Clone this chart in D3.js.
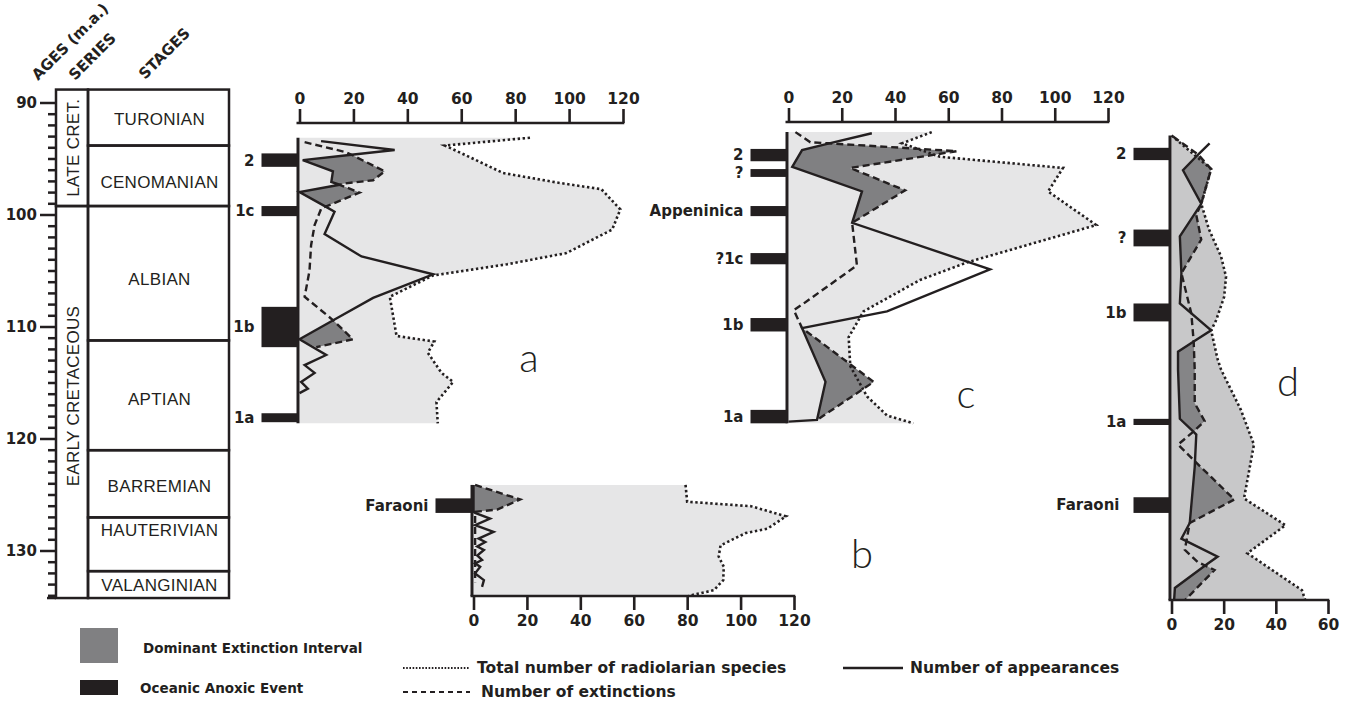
<!DOCTYPE html>
<meta charset="utf-8">
<script src="https://cdn.jsdelivr.net/npm/d3@7"></script>
<style>
  body { margin: 0; background: #fff; }
  text { fill: #231f20; }
</style>
<svg id="chart" width="1353" height="704"></svg>
<script>
// ---------- data (ages in m.a., values = number of species) ----------
var stages = ["TURONIAN", "CENOMANIAN", "ALBIAN", "APTIAN", "BARREMIAN", "HAUTERIVIAN", "VALANGINIAN"];
var stageTops = [88.8, 93.8, 99.2, 111.2, 121.0, 127.0, 131.8];
var stageBases = [93.8, 99.2, 111.2, 121.0, 127.0, 131.8, 134.2];
var stageLabelAges = [91.4, 97.0, 105.7, 116.4, 124.2, 128.1, 133.0];
var seriesNames = ["LATE CRET.", "EARLY CRETACEOUS"];
var seriesTops = [88.8, 99.2];
var seriesBases = [99.2, 134.2];
var ageTicks = [90, 100, 110, 120, 130];
var valueTicks = [0, 20, 40, 60, 80, 100, 120];
var valueTicksD = [0, 20, 40, 60];

// panel a
var aTotalAge = [93.1, 93.8, 94.7, 96.25, 97.1, 97.7, 99.5, 101.3, 103.4, 104.4, 105.4, 107.3, 110.8, 111.3, 112.3, 114.1, 114.9, 116.7, 118.6];
var aTotal    = [85.5, 53.9, 62, 75.5, 95.5, 112, 119, 116, 99, 77, 49.5, 33.5, 36, 50, 47.6, 52.7, 57, 50.8, 51.3];
var aAppAge = [93.4, 94.2, 94.62, 95.1, 96.1, 97.05, 97.3, 97.95, 99.25, 99.7, 101.7, 103.7, 105.3, 107.4, 109.4, 111.1, 112.5, 113.4, 114.1, 114.9, 115.5, 115.9];
var aApp    = [8, 35.3, 19.3, 1.2, 12.4, 11.8, 14.9, 0, 9.7, 13, 9.3, 23, 49.6, 27.3, 12.5, 0, 9.9, 1.9, 5.6, 0.6, 3.1, 0];
var aExtAge = [93.5, 94.4, 94.62, 96.1, 96.9, 97.2, 97.3, 98.0, 99.25, 99.4, 100.9, 102.7, 105.0, 107.3, 109.4, 111.1, 111.8];
var aExt    = [1.9, 17.4, 19.3, 31.6, 27.3, 16.1, 14.9, 22.3, 9.7, 8.1, 5.6, 4.3, 3.7, 1.9, 12.5, 19.8, 6.2];
var aShade = [[94.62, 97.3], [97.3, 99.25], [109.4, 111.8]];
var aOae = ["2", "1c", "1b", "1a"];
var aOaeTop = [94.5, 99.2, 108.2, 117.7];
var aOaeBase = [95.7, 100.1, 111.8, 118.5];

// panel b
var bTotalAge = [124.1, 125.6, 126.0, 126.9, 128.0, 128.4, 129.5, 130.5, 131.4, 132.6, 133.5, 134.0];
var bTotal    = [79.4, 80, 103.9, 117, 110.1, 101.9, 92.5, 91.8, 93.7, 93.5, 90, 80.6];
var bAppAge = [124.1, 126.5, 126.6, 127.1, 127.7, 128.3, 128.9, 129.2, 129.6, 129.9, 130.4, 130.8, 131.1, 131.4, 132.0, 132.6, 133.2];
var bApp    = [0, 0, 0.6, 6.2, 0.6, 7.5, 1.9, 4.4, 1.4, 3.9, 1.4, 3.2, 0.6, 2.5, 0.6, 3.9, 3.2];
var bExtAge = [124.1, 125.4, 126.3, 126.5, 132.8];
var bExt    = [0.6, 17.5, 8.9, 0.6, 0.6];
var bShade = [[124.1, 126.5]];
var bOae = ["Faraoni"];
var bOaeTop = [125.3];
var bOaeBase = [126.6];

// panel c
var cTotalAge = [92.6, 93.6, 94.8, 95.8, 97.9, 100.9, 104.2, 105.8, 108.6, 110.9, 113.5, 116.2, 117.9, 118.6];
var cTotal    = [53.8, 42.6, 56.9, 103.1, 97.5, 115.6, 67.5, 49.4, 28.2, 22.6, 23.2, 29.5, 37, 46.9];
var cAppAge = [92.7, 93.6, 94.2, 95.7, 97.9, 100.7, 104.85, 108.6, 110.1, 114.9, 118.3, 118.45];
var cApp    = [31.3, 15.3, 5.1, 1.4, 27.6, 23.9, 75.7, 37, 5.1, 13.9, 10.7, 0];
var cExtAge = [92.6, 93.5, 93.6, 94.3, 95.8, 97.8, 100.7, 104.5, 107.9, 108.5, 110.1, 114.9, 118.3];
var cExt    = [2.6, 8.2, 15.3, 63.2, 23.2, 43.8, 23.9, 25.7, 5.7, 2, 5.1, 32, 10.7];
var cShade = [[93.6, 100.7], [110.1, 118.3]];
var cOae = ["2", "?", "Appeninica", "?1c", "1b", "1a"];
var cOaeTop = [94.1, 95.9, 99.2, 103.4, 109.2, 117.4];
var cOaeBase = [95.2, 96.6, 100.1, 104.4, 110.4, 118.6];

// panel d
var dTotalAge = [92.9, 95.9, 99.0, 101.3, 103.7, 105.5, 107.3, 109.4, 110.3, 112.9, 113.8, 117.4, 120.5, 125.3, 127.7, 130.2, 133.5, 134.4];
var dTotal    = [0, 15.2, 11.4, 14.4, 19, 20.9, 20.2, 17.1, 15.2, 17.7, 19, 26.6, 31.6, 27.8, 43.7, 29.1, 50, 51.3];
var dAppAge = [93.6, 94.6, 96.0, 99.0, 101.9, 105.2, 107.9, 110.3, 111.3, 112.2, 113.8, 118.2, 119.35, 119.6, 122.0, 122.5, 127.5, 128.9, 130.5, 131.3, 133.3, 134.4];
var dApp    = [14.6, 10.2, 4.4, 11.4, 3.2, 3.8, 3.2, 15.2, 8.5, 2.5, 2.5, 3.2, 8.4, 9.5, 9.0, 8.9, 7, 3.8, 17.7, 12.9, 1.3, 1];
var dExtAge = [93.0, 94.6, 95.9, 99.0, 100.0, 102.2, 105.2, 108.8, 111.3, 113.8, 116.8, 118.4, 119.35, 120.5, 122.0, 125.4, 127.5, 129.9, 131.0, 131.3, 131.7, 134.4];
var dExt    = [0.6, 10.2, 15.2, 11.4, 9.5, 11.4, 3.8, 7.6, 8.5, 8.9, 8.9, 12.7, 8.4, 2.5, 9.0, 24.1, 7, 5.1, 10.1, 12.9, 16.5, 5.1];
var dShade = [[94.6, 99.0], [99.0, 105.2], [111.3, 119.35], [122.0, 127.5], [131.3, 134.4]];
var dOae = ["2", "?", "1b", "1a", "Faraoni"];
var dOaeTop = [94.0, 101.3, 107.9, 118.2, 125.2];
var dOaeBase = [95.1, 102.8, 109.5, 118.75, 126.6];

// ---------- drawing ----------
var ink = "#231f20";
var bold = "'DejaVu Sans', 'Liberation Sans', sans-serif";
var plain = "'Liberation Sans', Arial, sans-serif";

var svg = d3.select("#chart");
svg.append("rect").attr("width", 1353).attr("height", 704).attr("fill", "#fff");

// shared age scale
var y = d3.scaleLinear().domain([90, 130]).range([103, 551]);

// ---- stratigraphic column ----
var col = svg.append("g");
var colL = 56, colM = 88, colR = 229;

col.selectAll("rect.stage")
  .data(stages)
  .enter().append("rect")
    .attr("x", colM).attr("width", colR - colM)
    .attr("y", function(d, i){ return y(stageTops[i]) })
    .attr("height", function(d, i){ return y(stageBases[i]) - y(stageTops[i]) })
    .attr("fill", "none").attr("stroke", ink).attr("stroke-width", 2.5);

col.selectAll("text.stage")
  .data(stages)
  .enter().append("text")
    .attr("x", (colM + colR) / 2 + 1)
    .attr("y", function(d, i){ return y(stageLabelAges[i]) })
    .attr("dy", "0.36em")
    .attr("text-anchor", "middle")
    .style("font-family", plain).style("font-size", "17px").style("letter-spacing", "0.3px")
    .text(function(d){ return d });

col.selectAll("rect.series")
  .data(seriesNames)
  .enter().append("rect")
    .attr("x", colL).attr("width", colM - colL)
    .attr("y", function(d, i){ return y(seriesTops[i]) })
    .attr("height", function(d, i){ return y(seriesBases[i]) - y(seriesTops[i]) })
    .attr("fill", "none").attr("stroke", ink).attr("stroke-width", 2.5);

col.selectAll("text.series")
  .data(seriesNames)
  .enter().append("text")
    .attr("transform", function(d, i){
      var cy = (y(seriesTops[i]) + y(seriesBases[i])) / 2 - (i == 1 ? 6 : 0);
      return "translate(" + ((colL + colM) / 2 + 1) + "," + cy + ") rotate(-90)";
    })
    .attr("dy", "0.36em")
    .attr("text-anchor", "middle")
    .style("font-family", plain).style("font-size", "17px").style("letter-spacing", "0.3px")
    .text(function(d){ return d });

// age ticks every 1 m.a.
var minor = d3.range(90, 134.5, 1);
col.selectAll("line.minor")
  .data(minor)
  .enter().append("line")
    .attr("x1", function(d){ return ageTicks.indexOf(d) >= 0 ? 40 : 48 })
    .attr("x2", colL)
    .attr("y1", function(d){ return y(d) }).attr("y2", function(d){ return y(d) })
    .attr("stroke", ink).attr("stroke-width", 2.5);
col.append("line")
  .attr("x1", 47).attr("x2", colL)
  .attr("y1", y(134.2)).attr("y2", y(134.2))
  .attr("stroke", ink).attr("stroke-width", 2.5);

col.selectAll("text.age")
  .data(ageTicks)
  .enter().append("text")
    .attr("x", 37).attr("y", function(d){ return y(d) })
    .attr("dy", "0.36em").attr("text-anchor", "end")
    .style("font-family", bold).style("font-weight", "bold").style("font-size", "15px")
    .text(function(d){ return d });

// rotated headers (anchored at their lower-left start)
var headers = [["AGES (m.a.)", 38, 81], ["SERIES", 75, 81], ["STAGES", 145, 80]];
col.selectAll("text.head")
  .data(headers)
  .enter().append("text")
    .attr("transform", function(d){ return "translate(" + d[1] + "," + d[2] + ") rotate(-45)" })
    .attr("text-anchor", "start")
    .style("font-family", bold).style("font-weight", "bold").style("font-size", "15px")
    .text(function(d){ return d[0] });

// ---- panels ----
function drawPanel(p) {
  var x = d3.scaleLinear().domain([0, p.max]).range(p.range);
  var g = svg.append("g");
  var line = d3.line().x(function(d){ return x(d[0]) }).y(function(d){ return y(d[1]) });
  var top = p.totalAge[0], bot = p.totalAge[p.totalAge.length - 1];

  // area under the total curve
  var area = [[0, top]].concat(d3.zip(p.total, p.totalAge)).concat([[0, bot]]);
  g.append("path").attr("d", line(area) + "Z").attr("fill", p.fill);

  // dominant extinction intervals
  p.shade.forEach(function(r){
    var inR = function(d){ return d[1] >= r[0] - 1e-6 && d[1] <= r[1] + 1e-6 };
    var a = d3.zip(p.app, p.appAge).filter(inR);
    var e = d3.zip(p.ext, p.extAge).filter(inR).reverse();
    g.append("path").attr("d", line(a.concat(e)) + "Z").attr("fill", p.dark);
  });

  // curves
  g.append("path").attr("d", line(d3.zip(p.total, p.totalAge)))
    .attr("fill", "none").attr("stroke", ink).attr("stroke-width", 2.6)
    .attr("stroke-dasharray", "2.4,2.6");
  g.append("path").attr("d", line(d3.zip(p.ext, p.extAge)))
    .attr("fill", "none").attr("stroke", ink).attr("stroke-width", 2.4)
    .attr("stroke-dasharray", "7,4");
  g.append("path").attr("d", line(d3.zip(p.app, p.appAge)))
    .attr("fill", "none").attr("stroke", ink).attr("stroke-width", 2.4)
    .attr("stroke-linejoin", "miter");

  // vertical axis
  g.append("line")
    .attr("x1", x(0) - 1.5).attr("x2", x(0) - 1.5)
    .attr("y1", y(top)).attr("y2", p.axisBottom ? p.axisY : y(bot))
    .attr("stroke", ink).attr("stroke-width", 3);

  // oceanic anoxic events
  g.selectAll("rect.oae")
    .data(p.oae)
    .enter().append("rect")
      .attr("x", x(0) - 38).attr("width", 37)
      .attr("y", function(d, i){ return y(p.oaeTop[i]) })
      .attr("height", function(d, i){ return y(p.oaeBase[i]) - y(p.oaeTop[i]) })
      .attr("fill", ink);
  g.selectAll("text.oae")
    .data(p.oae)
    .enter().append("text")
      .attr("x", function(d){ return x(0) - 45 - (d == "Faraoni" && p.axisBottom && p.max == 60 ? 7 : 0) })
      .attr("y", function(d, i){ return (y(p.oaeTop[i]) + y(p.oaeBase[i])) / 2 })
      .attr("dy", "0.36em").attr("text-anchor", "end")
      .style("font-family", bold).style("font-weight", "bold").style("font-size", "15px")
      .text(function(d){ return d });

  // value axis
  var ax = (p.axisBottom ? d3.axisBottom(x) : d3.axisTop(x))
    .tickValues(p.ticks).tickSize(14).tickSizeOuter(0).tickPadding(5);
  var axg = g.append("g").attr("transform", "translate(0," + p.axisY + ")").call(ax);
  axg.select(".domain").attr("stroke", ink).attr("stroke-width", 2.6)
    .attr("d", "M" + (x(0) - 3) + ",0H" + (x(p.max) + 1.3));
  axg.selectAll(".tick line").attr("stroke", ink).attr("stroke-width", 2.6);
  axg.selectAll(".tick text").attr("fill", ink)
    .style("font-family", bold).style("font-weight", "bold").style("font-size", "15.5px");

  // panel letter
  g.append("text").attr("x", p.letterPos[0]).attr("y", p.letterPos[1])
    .attr("text-anchor", "middle")
    .style("font-family", "Lato, 'Open Sans', sans-serif").style("font-weight", "300").style("font-size", "40px")
    .text(p.letter);
}

var lightFill = "#e6e6e7", darkFill = "#808082";

drawPanel({ letter: "a", letterPos: [529, 372], max: 120, range: [299.5, 623], axisY: 123, ticks: valueTicks,
  totalAge: aTotalAge, total: aTotal, appAge: aAppAge, app: aApp, extAge: aExtAge, ext: aExt,
  shade: aShade, oae: aOae, oaeTop: aOaeTop, oaeBase: aOaeBase, fill: lightFill, dark: darkFill });

drawPanel({ letter: "c", letterPos: [966, 408], max: 120, range: [788.5, 1108], axisY: 122, ticks: valueTicks,
  totalAge: cTotalAge, total: cTotal, appAge: cAppAge, app: cApp, extAge: cExtAge, ext: cExt,
  shade: cShade, oae: cOae, oaeTop: cOaeTop, oaeBase: cOaeBase, fill: lightFill, dark: darkFill });

drawPanel({ letter: "b", letterPos: [862, 568], max: 120, range: [473.5, 794], axisY: 596, axisBottom: true, ticks: valueTicks,
  totalAge: bTotalAge, total: bTotal, appAge: bAppAge, app: bApp, extAge: bExtAge, ext: bExt,
  shade: bShade, oae: bOae, oaeTop: bOaeTop, oaeBase: bOaeBase, fill: lightFill, dark: darkFill });

drawPanel({ letter: "d", letterPos: [1288, 396], max: 60, range: [1171.5, 1328], axisY: 600, axisBottom: true, ticks: valueTicksD,
  totalAge: dTotalAge, total: dTotal, appAge: dAppAge, app: dApp, extAge: dExtAge, ext: dExt,
  shade: dShade, oae: dOae, oaeTop: dOaeTop, oaeBase: dOaeBase, fill: "#c8c8c9", dark: "#858587" });

// ---- legend ----
var leg = svg.append("g").style("font-family", bold).style("font-weight", "bold");
leg.append("rect").attr("x", 80).attr("y", 628).attr("width", 38).attr("height", 35).attr("fill", darkFill);
leg.append("text").attr("x", 143).attr("y", 653).style("font-size", "13.5px").text("Dominant Extinction Interval");
leg.append("rect").attr("x", 80).attr("y", 680).attr("width", 38).attr("height", 15).attr("fill", ink);
leg.append("text").attr("x", 140).attr("y", 693).style("font-size", "13.5px").text("Oceanic Anoxic Event");

leg.append("line").attr("x1", 403).attr("x2", 470).attr("y1", 668).attr("y2", 668)
  .attr("stroke", ink).attr("stroke-width", 2).attr("stroke-dasharray", "1.6,1.6");
leg.append("text").attr("x", 477).attr("y", 673).style("font-size", "15.5px").text("Total number of radiolarian species");
leg.append("line").attr("x1", 403).attr("x2", 470).attr("y1", 692).attr("y2", 692)
  .attr("stroke", ink).attr("stroke-width", 2.2).attr("stroke-dasharray", "5,4");
leg.append("text").attr("x", 481).attr("y", 697).style("font-size", "15.5px").text("Number of extinctions");
leg.append("line").attr("x1", 843).attr("x2", 903).attr("y1", 668).attr("y2", 668)
  .attr("stroke", ink).attr("stroke-width", 2.4);
leg.append("text").attr("x", 910).attr("y", 673).style("font-size", "15.5px").text("Number of appearances");
</script>
